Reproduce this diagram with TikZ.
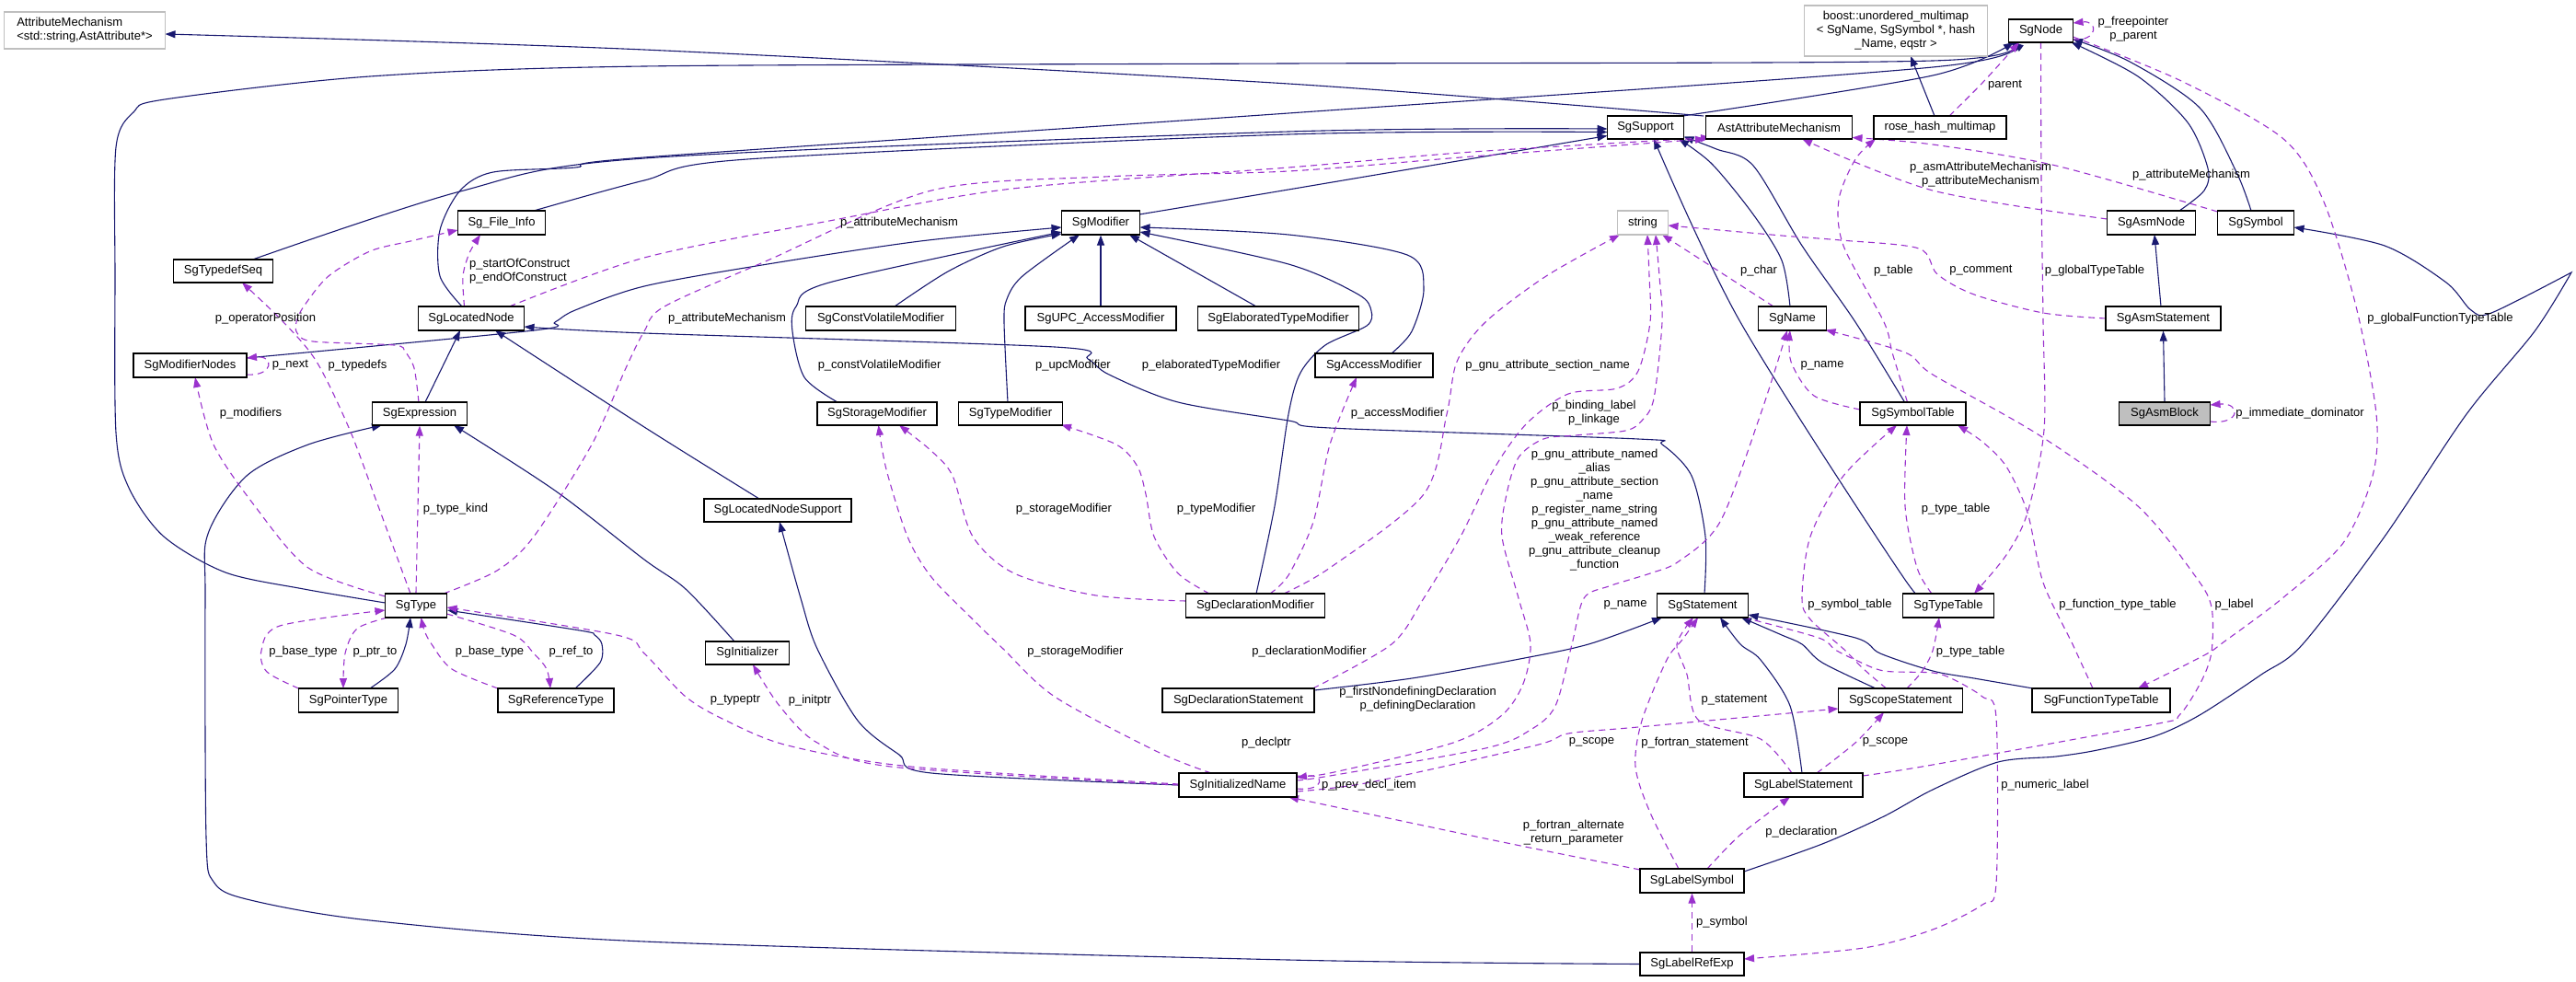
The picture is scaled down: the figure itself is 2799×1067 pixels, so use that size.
\documentclass[tikz,border=0pt]{standalone}
\usepackage{fontspec}
\setmainfont{Liberation Sans}
\usetikzlibrary{arrows.meta,calc}
\definecolor{inhc}{HTML}{191970}
\definecolor{usec}{HTML}{9A32CD}
\definecolor{extc}{HTML}{BFBFBF}
\newcommand\lblfont{\fontsize{13}{15}\selectfont}
\pgfdeclarelayer{edges}
\pgfsetlayers{edges,main}
\begin{document}
\begin{tikzpicture}[x=1pt,y=-1pt,
  cls/.style={draw=black,line width=1.2pt,fill=white,inner sep=0pt,font=\lblfont,minimum height=26pt},
  ext/.style={cls,draw=extc},
  hl/.style={cls,fill=extc},
  inh/.style={draw=inhc,line width=1.1pt,-{Triangle[length=11pt,width=8pt]}},
  use/.style={draw=usec,line width=1.1pt,dash pattern=on 7pt off 5pt,-{Triangle[length=11pt,width=8pt]}},
  lbl/.style={font=\lblfont,inner sep=0pt,align=center},
]
\useasboundingbox (0,0) rectangle (2799,1067);

% ---------------- nodes
\node[ext,minimum width=175pt,minimum height=40pt,align=left] (AM) at (92,33) {AttributeMechanism\\<std::string,AstAttribute*>};
\node[cls,minimum width=95pt] (FI) at (545,242) {Sg\_File\_Info};
\node[cls,minimum width=108pt,minimum height=25pt] (TDS) at (242.5,294.5) {SgTypedefSeq};
\node[cls,minimum width=115pt] (LN) at (512,346) {SgLocatedNode};
\node[cls,minimum width=85pt] (MOD) at (1196,242) {SgModifier};
\node[cls,minimum width=163pt] (CVM) at (957,346) {SgConstVolatileModifier};
\node[cls,minimum width=164pt] (UPC) at (1196,346) {SgUPC\_AccessModifier};
\node[cls,minimum width=175pt] (ETM) at (1389,346) {SgElaboratedTypeModifier};
\node[ext,minimum width=199pt,minimum height=55pt,align=center] (BOOST) at (2060,33.5) {boost::unordered\_multimap\\< SgName, SgSymbol *, hash\\\_Name, eqstr >};
\node[cls,minimum width=83pt,minimum height=25pt] (SUP) at (1788,138.5) {SgSupport};
\node[cls,minimum width=159pt,minimum height=25pt] (AAM) at (1933,138.5) {AstAttributeMechanism};
\node[cls,minimum width=144pt,minimum height=25pt] (RHM) at (2108,138.5) {rose\_hash\_multimap};
\node[ext,minimum width=55pt] (STR) at (1785,242) {string};
\node[cls,minimum width=74pt] (NAME) at (1947.5,346) {SgName};
\node[cls,minimum width=70pt,minimum height=25pt] (NODE) at (2217.5,33.5) {SgNode};
\node[cls,minimum width=96pt] (ASMN) at (2337.5,242) {SgAsmNode};
\node[cls,minimum width=83pt] (SYM) at (2451,242) {SgSymbol};
\node[cls,minimum width=125pt] (ASMS) at (2350.5,346) {SgAsmStatement};
\node[cls,minimum width=123pt] (MN) at (206.5,397) {SgModifierNodes};
\node[cls,minimum width=103pt,minimum height=25pt] (EXP) at (456,449.5) {SgExpression};
\node[cls,minimum width=67pt] (TYPE) at (452,658) {SgType};
\node[cls,minimum width=130pt,minimum height=25pt] (SM) at (953,449.5) {SgStorageModifier};
\node[cls,minimum width=113pt,minimum height=25pt] (TM) at (1098,449.5) {SgTypeModifier};
\node[cls,minimum width=160pt,minimum height=25pt] (LNS) at (845,554.5) {SgLocatedNodeSupport};
\node[cls,minimum width=151pt] (DM) at (1364,658) {SgDeclarationModifier};
\node[cls,minimum width=91pt,minimum height=25pt] (INIT) at (812,709.5) {SgInitializer};
\node[cls,minimum width=128pt] (AM2) at (1493,397) {SgAccessModifier};
\node[cls,minimum width=99pt] (STMT) at (1850,658) {SgStatement};
\node[cls,minimum width=115pt,minimum height=25pt] (SYMT) at (2078.5,449.5) {SgSymbolTable};
\node[cls,minimum width=99pt] (TT) at (2117,658) {SgTypeTable};
\node[hl,minimum width=99pt,minimum height=25pt] (ASMB) at (2352,449.5) {SgAsmBlock};
\node[cls,minimum width=108pt] (PT) at (378.5,761) {SgPointerType};
\node[cls,minimum width=126pt] (RT) at (604,761) {SgReferenceType};
\node[cls,minimum width=165pt] (DS) at (1345.5,761) {SgDeclarationStatement};
\node[cls,minimum width=128pt] (IN) at (1345,853) {SgInitializedName};
\node[cls,minimum width=135pt] (SS) at (2065,761) {SgScopeStatement};
\node[cls,minimum width=129pt] (LS) at (1959.5,853) {SgLabelStatement};
\node[cls,minimum width=113pt] (LSYM) at (1838.5,957) {SgLabelSymbol};
\node[cls,minimum width=113pt,minimum height=25pt] (LRE) at (1838.5,1047.5) {SgLabelRefExp};
\node[cls,minimum width=150pt] (FTT) at (2283,761) {SgFunctionTypeTable};

% ---------------- edges
\begin{pgfonlayer}{edges}
% inheritance
\draw[inh] plot[smooth] coordinates {($(AAM.center)+(-82,-12.5)$) (1400,91) (700,54) ($(AM.center)+(87.5,4)$)};
\draw[inh] plot[smooth] coordinates {($(SUP.center)+(40.5,-12.5)$) (2100,82) ($(NODE.center)+(-29.5,12.5)$)};
\draw[inh] plot[smooth] coordinates {($(TYPE.center)+(-33.5,-3)$) (330,640) (245,622) (178,583) (140,530) (126,470) (125,300) (126,160) (145,122) (179,108) (402,83) (700,72) (1400,69) (2100,66) ($(NODE.center)+(-33,12.5)$)};
\draw[inh] plot[smooth] coordinates {($(LN.center)+(-10,-13)$) (478,300) (478,250) (500,207) (536,187) (625,182) (700,171) (1400,123) (2100,73) ($(NODE.center)+(-30,12.5)$)};
\draw[inh] plot[smooth] coordinates {($(TDS.center)+(32,-12.5)$) (500,208) (700,172) (1400,143) ($(SUP.center)+(-41.5,1.5)$)};
\draw[inh] plot[smooth] coordinates {($(FI.center)+(35,-13)$) (700,196) (812,173) (1400,146) ($(SUP.center)+(-41.5,5)$)};
\draw[inh] plot[smooth] coordinates {($(MOD.center)+(42,-9)$) (1400,206) ($(SUP.center)+(-41.5,9)$)};
\draw[inh] plot[smooth] coordinates {($(MN.center)+(61.5,-8)$) (580,359) (603,350) (625,337) (700,311) (834,287) (1000,262) ($(MOD.center)+(-42.5,5)$)};
\draw[inh] plot[smooth] coordinates {($(SM.center)+(-43,-12.5)$) (874,410) (861,360) (865,333) (901,307) ($(MOD.center)+(-42.5,10)$)};
\draw[inh] plot[smooth] coordinates {($(CVM.center)+(15,-13)$) (1030,295) (1090,268) ($(MOD.center)+(-42.5,12)$)};
\draw[inh] plot[smooth] coordinates {($(TM.center)+(-3,-12.5)$) (1091,350) (1094,325) (1111,300) ($(MOD.center)+(-23,13)$)};
\draw[inh] (UPC.north) -- (MOD.south);
\draw[inh] ($(ETM.center)+(-24,-13)$) -- ($(MOD.center)+(31,13)$);
\draw[inh] plot[smooth] coordinates {($(AM2.center)+(19,-13)$) (1534,360) (1547,313) (1529,277) (1400,255) ($(MOD.center)+(42.5,5)$)};
\draw[inh] plot[smooth] coordinates {($(DM.center)+(1,-13)$) (1385,550) (1400,450) (1413,405) (1440,375) (1485,354) (1490,338) (1476,320) (1400,287) ($(MOD.center)+(42.5,10)$)};
\draw[inh] plot[smooth] coordinates {($(NAME.center)+(-2.5,-13)$) (1936,283) (1905,233) (1860,178) ($(SUP.center)+(36,12.5)$)};
\draw[inh] plot[smooth] coordinates {($(SYMT.center)+(-9,-12.5)$) (2016,350) (1958,267) (1905,180) (1865,162) ($(SUP.center)+(41.5,10)$)};
\draw[inh] plot[smooth] coordinates {($(TT.center)+(-23,-13)$) (2070,630) (1891,350) ($(SUP.center)+(9,12.5)$)};
\draw[inh] plot[smooth] coordinates {($(SYM.center)+(-5,-13)$) (2430,187) (2390,117) (2314,67) ($(NODE.center)+(34.5,9)$)};
\draw[inh] plot[smooth] coordinates {($(ASMN.center)+(30.5,-13)$) (2395,207) (2399,183) (2377,133) (2323,83) ($(NODE.center)+(33,12.5)$)};
\draw[inh] ($(ASMS.center)+(-2.5,-13)$) -- ($(ASMN.center)+(3.5,13)$);
\draw[inh] (ASMB.north) -- (ASMS.south);
\draw[inh] ($(EXP.center)+(6,-12.5)$) -- ($(LN.center)+(-12,13)$);
\draw[inh] plot[smooth] coordinates {($(LNS.center)+(-20,-12.5)$) (700,464) ($(LN.center)+(26,13)$)};
\draw[inh] plot[smooth] coordinates {($(STMT.center)+(2,-13)$) (1853,583) (1838,517) (1806,483) (1780,477) (1445,465) (1400,457) (1280,437) (1205,407) (1182,390) (1146,377) (700,362) ($(LN.center)+(57.5,9)$)};
\draw[inh] ($(RHM.center)+(-6,-12.5)$) -- ($(BOOST.center)+(16,27.5)$);
\draw[inh] plot[smooth] coordinates {($(PT.center)+(23.5,-13)$) (429,727) (441,700) ($(TYPE.center)+(-6,13)$)};
\draw[inh] plot[smooth] coordinates {($(RT.center)+(21,-13)$) (652,720) (654,700) (646,690) (630,685) ($(TYPE.center)+(34,5)$)};
\draw[inh] plot[smooth] coordinates {($(INIT.center)+(-14,-12.5)$) (745,640) (700,608) (603,533) ($(EXP.center)+(37,12.5)$)};
\draw[inh] plot[smooth] coordinates {($(LRE.center)+(-56.5,0)$) (1400,1043) (700,1023) (402,1000) (268,977) (232,958) (224,910) (223,650) (226,580) (268,517) (335,483) ($(EXP.center)+(-41,12.5)$)};
\draw[inh] plot[smooth] coordinates {($(IN.center)+(-64,0)$) (1012,840) (977,820) (932,783) (888,705) (870,650) ($(LNS.center)+(2,12.5)$)};
\draw[inh] plot[smooth] coordinates {($(DS.center)+(82.5,-11)$) (1534,737) (1646,717) (1726,700) ($(STMT.center)+(-44,13)$)};
\draw[inh] plot[smooth] coordinates {($(SS.center)+(-27,-13)$) (1980,720) (1958,700) (1936,690) ($(STMT.center)+(42,13)$)};
\draw[inh] plot[smooth] coordinates {($(LS.center)+(-1.5,-13)$) (1945,767) (1913,717) (1891,700) ($(STMT.center)+(19,13)$)};
\draw[inh] plot[smooth] coordinates {($(FTT.center)+(-74,-13)$) (2145,737) (2100,729) (2043,710) (2016,693) ($(STMT.center)+(49.5,10)$)};
\draw[inh] plot[smooth] coordinates {($(LSYM.center)+(56.5,-10)$) (1980,917) (2047,887) (2100,858) (2171,828) (2234,822) (2279,815) (2341,800) (2390,777) (2457,733) (2502,700) (2591,583) (2680,450) (2754,360) (2794,296)} -- plot[smooth] coordinates {(2794,296) (2707,340) (2685,337) (2658,307) (2591,267) ($(SYM.center)+(41.5,5)$)};

% usage
\draw[use] plot[smooth] coordinates {($(LN.center)+(-7.5,-13)$) (503,300) (510,275) ($(FI.center)+(-23,13)$)};
\draw[use] plot[smooth] coordinates {($(EXP.center)+(-1,-12.5)$) (450,400) (440,382) (428,375) (340,371) (323,362) (322,350) (330,333) (357,300) (402,273) (446,262) ($(FI.center)+(-47.5,8)$)};
\draw[use] plot[smooth] coordinates {($(TYPE.center)+(-6,-13)$) (411,550) (380,467) (344,393) (308,350) ($(TDS.center)+(20.5,12.5)$)};
\draw[use] ($(MN.center)+(61.5,10)$) .. controls (298,409) and (298,386) .. ($(MN.center)+(61.5,-8)$);
\draw[use] plot[smooth] coordinates {($(TYPE.center)+(-33.5,-10)$) (335,617) (277,550) (232,483) ($(MN.center)+(5.5,13)$)};
\draw[use] (TYPE.north) -- (EXP.south);
\draw[use] plot[smooth] coordinates {($(TYPE.center)+(30,-13)$) (540,620) (580,583) (643,483) (680,400) (700,360) (722,333) (834,283) (1012,207) (1200,192) (1400,186) (1600,170) ($(AAM.center)+(-80,12.5)$)};
\draw[use] plot[smooth] coordinates {($(LN.center)+(41.5,-13)$) (700,280) (901,240) (1100,205) (1400,182) (1600,165) ($(AAM.center)+(-74,11)$)};
\draw[use] plot[smooth] coordinates {($(TYPE.center)+(-31,13)$) (388,683) (375,710) ($(PT.center)+(-5.5,-13)$)};
\draw[use] plot[smooth] coordinates {($(PT.center)+(-54,-13)$) (290,730) (284,707) (304,680) ($(TYPE.center)+(-33.5,5)$)};
\draw[use] plot[smooth] coordinates {($(RT.center)+(-63,-13)$) (491,727) (469,700) (461,685) ($(TYPE.center)+(5.5,13)$)};
\draw[use] plot[smooth] coordinates {($(TYPE.center)+(33.5,9)$) (558,690) (580,710) (594,727) ($(RT.center)+(-6,-13)$)};
\draw[use] plot[smooth] coordinates {($(IN.center)+(-64,-1)$) (990,833) (856,810) (789,783) (745,757) (700,710) (670,690) ($(TYPE.center)+(33.5,2)$)};
\draw[use] plot[smooth] coordinates {($(IN.center)+(-64,0)$) (968,833) (888,807) (847,767) ($(INIT.center)+(6,12.5)$)};
\draw[use] plot[smooth] coordinates {($(IN.center)+(-29,-13)$) (1258,817) (1146,757) (1090,705) (1057,673) (1012,627) (986,583) (963,510) ($(SM.center)+(1.5,12.5)$)};
\draw[use] plot[smooth] coordinates {($(DM.center)+(-75.5,-5)$) (1191,647) (1102,623) (1057,583) (1035,517) (1012,490) ($(SM.center)+(24,12.5)$)};
\draw[use] plot[smooth] coordinates {($(DM.center)+(-50,-13)$) (1280,623) (1254,583) (1245,537) (1236,507) (1213,483) ($(TM.center)+(55,12)$)};
\draw[use] plot[smooth] coordinates {($(DM.center)+(16,-13)$) (1400,625) (1427,567) (1445,483) ($(AM2.center)+(-19,13)$)};
\draw[use] plot[smooth] coordinates {($(DM.center)+(31,-13)$) (1445,617) (1547,537) (1572,450) (1583,393) (1614,350) (1680,300) ($(STR.center)+(-25,13)$)};
\draw[use] plot[smooth] coordinates {($(DS.center)+(81,-13)$) (1512,700) (1547,650) (1587,583) (1623,510) (1659,460) (1704,428) (1757,422) (1780,403) (1793,350) (1792,300) ($(STR.center)+(5,13)$)};
\draw[use] plot[smooth] coordinates {($(IN.center)+(64,-10)$) (1445,840) (1579,807) (1632,777) (1655,743) (1663,700) (1650,650) (1632,583) (1637,537) (1650,497) (1677,477) (1712,473) (1766,468) (1784,457) (1797,433) (1806,350) (1803,300) ($(STR.center)+(14,13)$)};
\draw[use] plot[smooth] coordinates {($(IN.center)+(64,-5)$) (1445,843) (1614,813) (1663,793) (1690,767) (1708,700) (1721,650) (1748,637) (1793,623) (1824,610) (1869,567) (1913,450) ($(NAME.center)+(-5.5,13)$)};
\draw[use] plot[smooth] coordinates {($(SYMT.center)+(-57.5,-4.5)$) (1971,430) (1946,393) ($(NAME.center)+(-2.5,13)$)};
\draw[use] ($(NAME.center)+(-20.5,-13)$) -- ($(STR.center)+(21,13)$);
\draw[use] plot[smooth] coordinates {($(ASMS.center)+(-62.5,0)$) (2220,340) (2145,320) (2105,298) (2085,270) (2000,261) (1936,256) ($(STR.center)+(27.5,3)$)};
\draw[use] plot[smooth] coordinates {($(SYMT.center)+(-6,-12.5)$) (2056,383) (2047,350) (2003,267) (1998,217) (2016,173) ($(RHM.center)+(-70,12.5)$)};
\draw[use] plot[smooth] coordinates {($(ASMN.center)+(-48,-4)$) (2100,207) ($(AAM.center)+(25,12.5)$)};
\draw[use] plot[smooth] coordinates {($(SYM.center)+(-41.5,-12)$) (2234,180) (2100,157) ($(AAM.center)+(79.5,11)$)};
\draw[use] ($(NODE.center)+(35,9.5)$) .. controls (2280,45) and (2280,22) .. ($(NODE.center)+(35,-8.5)$);
\draw[use] plot[smooth] coordinates {($(RHM.center)+(10,-12.5)$) (2154,90) ($(NODE.center)+(-23.5,12.5)$)};
\draw[use] plot[smooth] coordinates {($(NODE.center)+(0,12.5)$) (2218,200) (2220,350) (2221,467) (2203,557) (2180,603) ($(TT.center)+(28,-13)$)};
\draw[use] plot[smooth] coordinates {($(NODE.center)+(35,6.5)$) (2368,87) (2480,150) (2524,217) (2560,333) (2582,450) (2578,517) (2546,590) (2480,650) (2417,697) (2395,712) ($(FTT.center)+(40,-13)$)};
\draw[use] ($(ASMB.center)+(49.5,8.5)$) .. controls (2435,462) and (2435,437) .. ($(ASMB.center)+(49.5,-9.5)$);
\draw[use] plot[smooth] coordinates {($(SS.center)+(-15.5,-13)$) (2025,727) (2003,705) (1967,673) (1958,650) (1967,583) (2003,517) ($(SYMT.center)+(-17.5,12.5)$)};
\draw[use] plot[smooth] coordinates {($(TT.center)+(-18,-13)$) (2083,617) (2070,550) ($(SYMT.center)+(-6.5,12.5)$)};
\draw[use] plot[smooth] coordinates {($(SS.center)+(7,-13)$) (2088,730) (2100,707) ($(TT.center)+(-10,13)$)};
\draw[use] plot[smooth] coordinates {($(FTT.center)+(-9,-13)$) (2252,700) (2220,633) (2203,557) (2180,507) (2154,480) ($(SYMT.center)+(48.5,12.5)$)};
\draw[use] plot[smooth] coordinates {($(LS.center)+(64.5,-10)$) (2100,831) (2341,787) (2368,777) (2392,740) (2403,708) (2403,660) (2386,627) (2323,550) (2216,473) (2100,407) (2070,383) ($(NAME.center)+(36,12.5)$)};
\draw[use] plot[smooth] coordinates {($(LS.center)+(-12.5,-13)$) (1913,803) (1846,783) (1833,733) (1822,700) ($(STMT.center)+(-10,13)$)};
\draw[use] plot[smooth] coordinates {($(LSYM.center)+(-14.5,-13)$) (1793,883) (1777,833) (1784,783) (1811,717) (1828,695) ($(STMT.center)+(-5,13)$)};
\draw[use] plot[smooth] coordinates {($(LSYM.center)+(16.5,-13)$) (1891,907) ($(LS.center)+(-14.5,13)$)};
\draw[use] plot[smooth] coordinates {($(LSYM.center)+(-56.5,-12)$) (1623,913) ($(IN.center)+(55,13)$)};
\draw[use] ($(IN.center)+(64,4)$) .. controls (1440,860) and (1440,840) .. ($(IN.center)+(64,-8)$);
\draw[use] plot[smooth] coordinates {($(IN.center)+(64,7)$) (1489,850) (1668,810) (1704,797) (1780,790) ($(SS.center)+(-67.5,9)$)};
\draw[use] plot[smooth] coordinates {($(LS.center)+(14.5,-13)$) (2016,807) ($(SS.center)+(-18,13)$)};
\draw[use] (LRE.north) -- (LSYM.south);
\draw[use] plot[smooth] coordinates {($(STMT.center)+(45,13)$) (1976,693) (1994,706) (2016,717) (2047,729) (2100,731) (2122,738) (2154,757) (2169,780) (2169,960) (2154,983) (2100,1010) (2025,1030) ($(LRE.center)+(56.5,-5.5)$)};
\end{pgfonlayer}

% ---------------- labels
\node[lbl,anchor=west,align=left] (l1) at (510,294.5) {p\_startOfConstruct\\p\_endOfConstruct};
\node[lbl] (l2) at (288.5,346) {p\_operatorPosition};
\node[lbl] (l3) at (388.5,397) {p\_typedefs};
\node[lbl] (l4) at (315.5,397) {p\_next};
\node[lbl] (l5) at (272.5,449) {p\_modifiers};
\node[lbl] (l6) at (495,553) {p\_type\_kind};
\node[lbl] (l7) at (977,242) {p\_attributeMechanism};
\node[lbl] (l8) at (790,346) {p\_attributeMechanism};
\node[lbl] (l9) at (329.5,708.3) {p\_base\_type};
\node[lbl] (l10) at (407.5,708.3) {p\_ptr\_to};
\node[lbl] (l11) at (532,708.3) {p\_base\_type};
\node[lbl] (l12) at (620.5,708.3) {p\_ref\_to};
\node[lbl] (l13) at (799,760.7) {p\_typeptr};
\node[lbl] (l14) at (880,760.7) {p\_initptr};
\node[lbl] (l15) at (955.6,396.7) {p\_constVolatileModifier};
\node[lbl] (l16) at (1166,396.7) {p\_upcModifier};
\node[lbl] (l17) at (1316,396.7) {p\_elaboratedTypeModifier};
\node[lbl] (l18) at (1156,553) {p\_storageModifier};
\node[lbl] (l19) at (1321.5,553) {p\_typeModifier};
\node[lbl] (l20) at (1168.5,708.3) {p\_storageModifier};
\node[lbl] (l21) at (1518.5,448.7) {p\_accessModifier};
\node[lbl] (l22) at (1681.7,396.7) {p\_gnu\_attribute\_section\_name};
\node[lbl] (l23) at (1732,448.3) {p\_binding\_label\\p\_linkage};
\node[lbl] (l24) at (1732.6,553.8) {p\_gnu\_attribute\_named\\\_alias\\p\_gnu\_attribute\_section\\\_name\\p\_register\_name\_string\\p\_gnu\_attribute\_named\\\_weak\_reference\\p\_gnu\_attribute\_cleanup\\\_function};
\node[lbl] (l25) at (1422.5,708.3) {p\_declarationModifier};
\node[lbl] (l26) at (1540.6,760) {p\_firstNondefiningDeclaration\\p\_definingDeclaration};
\node[lbl,anchor=west] (l27) at (1349,806.7) {p\_declptr};
\node[lbl] (l28) at (1487.5,852.7) {p\_prev\_decl\_item};
\node[lbl] (l29) at (1729.5,806.7) {p\_scope};
\node[lbl] (l30) at (1841.5,806.7) {p\_fortran\_statement};
\node[lbl] (l31) at (1884.4,760.7) {p\_statement};
\node[lbl] (l32) at (2048.5,806.7) {p\_scope};
\node[lbl] (l33) at (1957.4,904.3) {p\_declaration};
\node[lbl] (l34) at (1709.8,904.2) {p\_fortran\_alternate\\\_return\_parameter};
\node[lbl] (l35) at (1871,1001.7) {p\_symbol};
\node[lbl] (l36) at (2222,853) {p\_numeric\_label};
\node[lbl] (l37) at (1766,657) {p\_name};
\node[lbl] (l38) at (1980,397) {p\_name};
\node[lbl] (l39) at (1911,294) {p\_char};
\node[lbl] (l40) at (2057.3,294) {p\_table};
\node[lbl] (l41) at (2010,657) {p\_symbol\_table};
\node[lbl] (l42) at (2125,553) {p\_type\_table};
\node[lbl] (l43) at (2141,708.3) {p\_type\_table};
\node[lbl] (l44) at (2301,657) {p\_function\_type\_table};
\node[lbl] (l45) at (2427.5,657) {p\_label};
\node[lbl] (l46) at (2152.4,294) {p\_comment};
\node[lbl] (l47) at (2276,294) {p\_globalTypeTable};
\node[lbl] (l48) at (2152,189.7) {p\_asmAttributeMechanism\\p\_attributeMechanism};
\node[lbl] (l49) at (2381,190) {p\_attributeMechanism};
\node[lbl] (l50) at (2178.5,92.7) {parent};
\node[lbl] (l51) at (2318,32) {p\_freepointer\\p\_parent};
\node[lbl] (l52) at (2651.5,345.7) {p\_globalFunctionTypeTable};
\node[lbl] (l53) at (2499,449) {p\_immediate\_dominator};
\end{tikzpicture}
\end{document}
